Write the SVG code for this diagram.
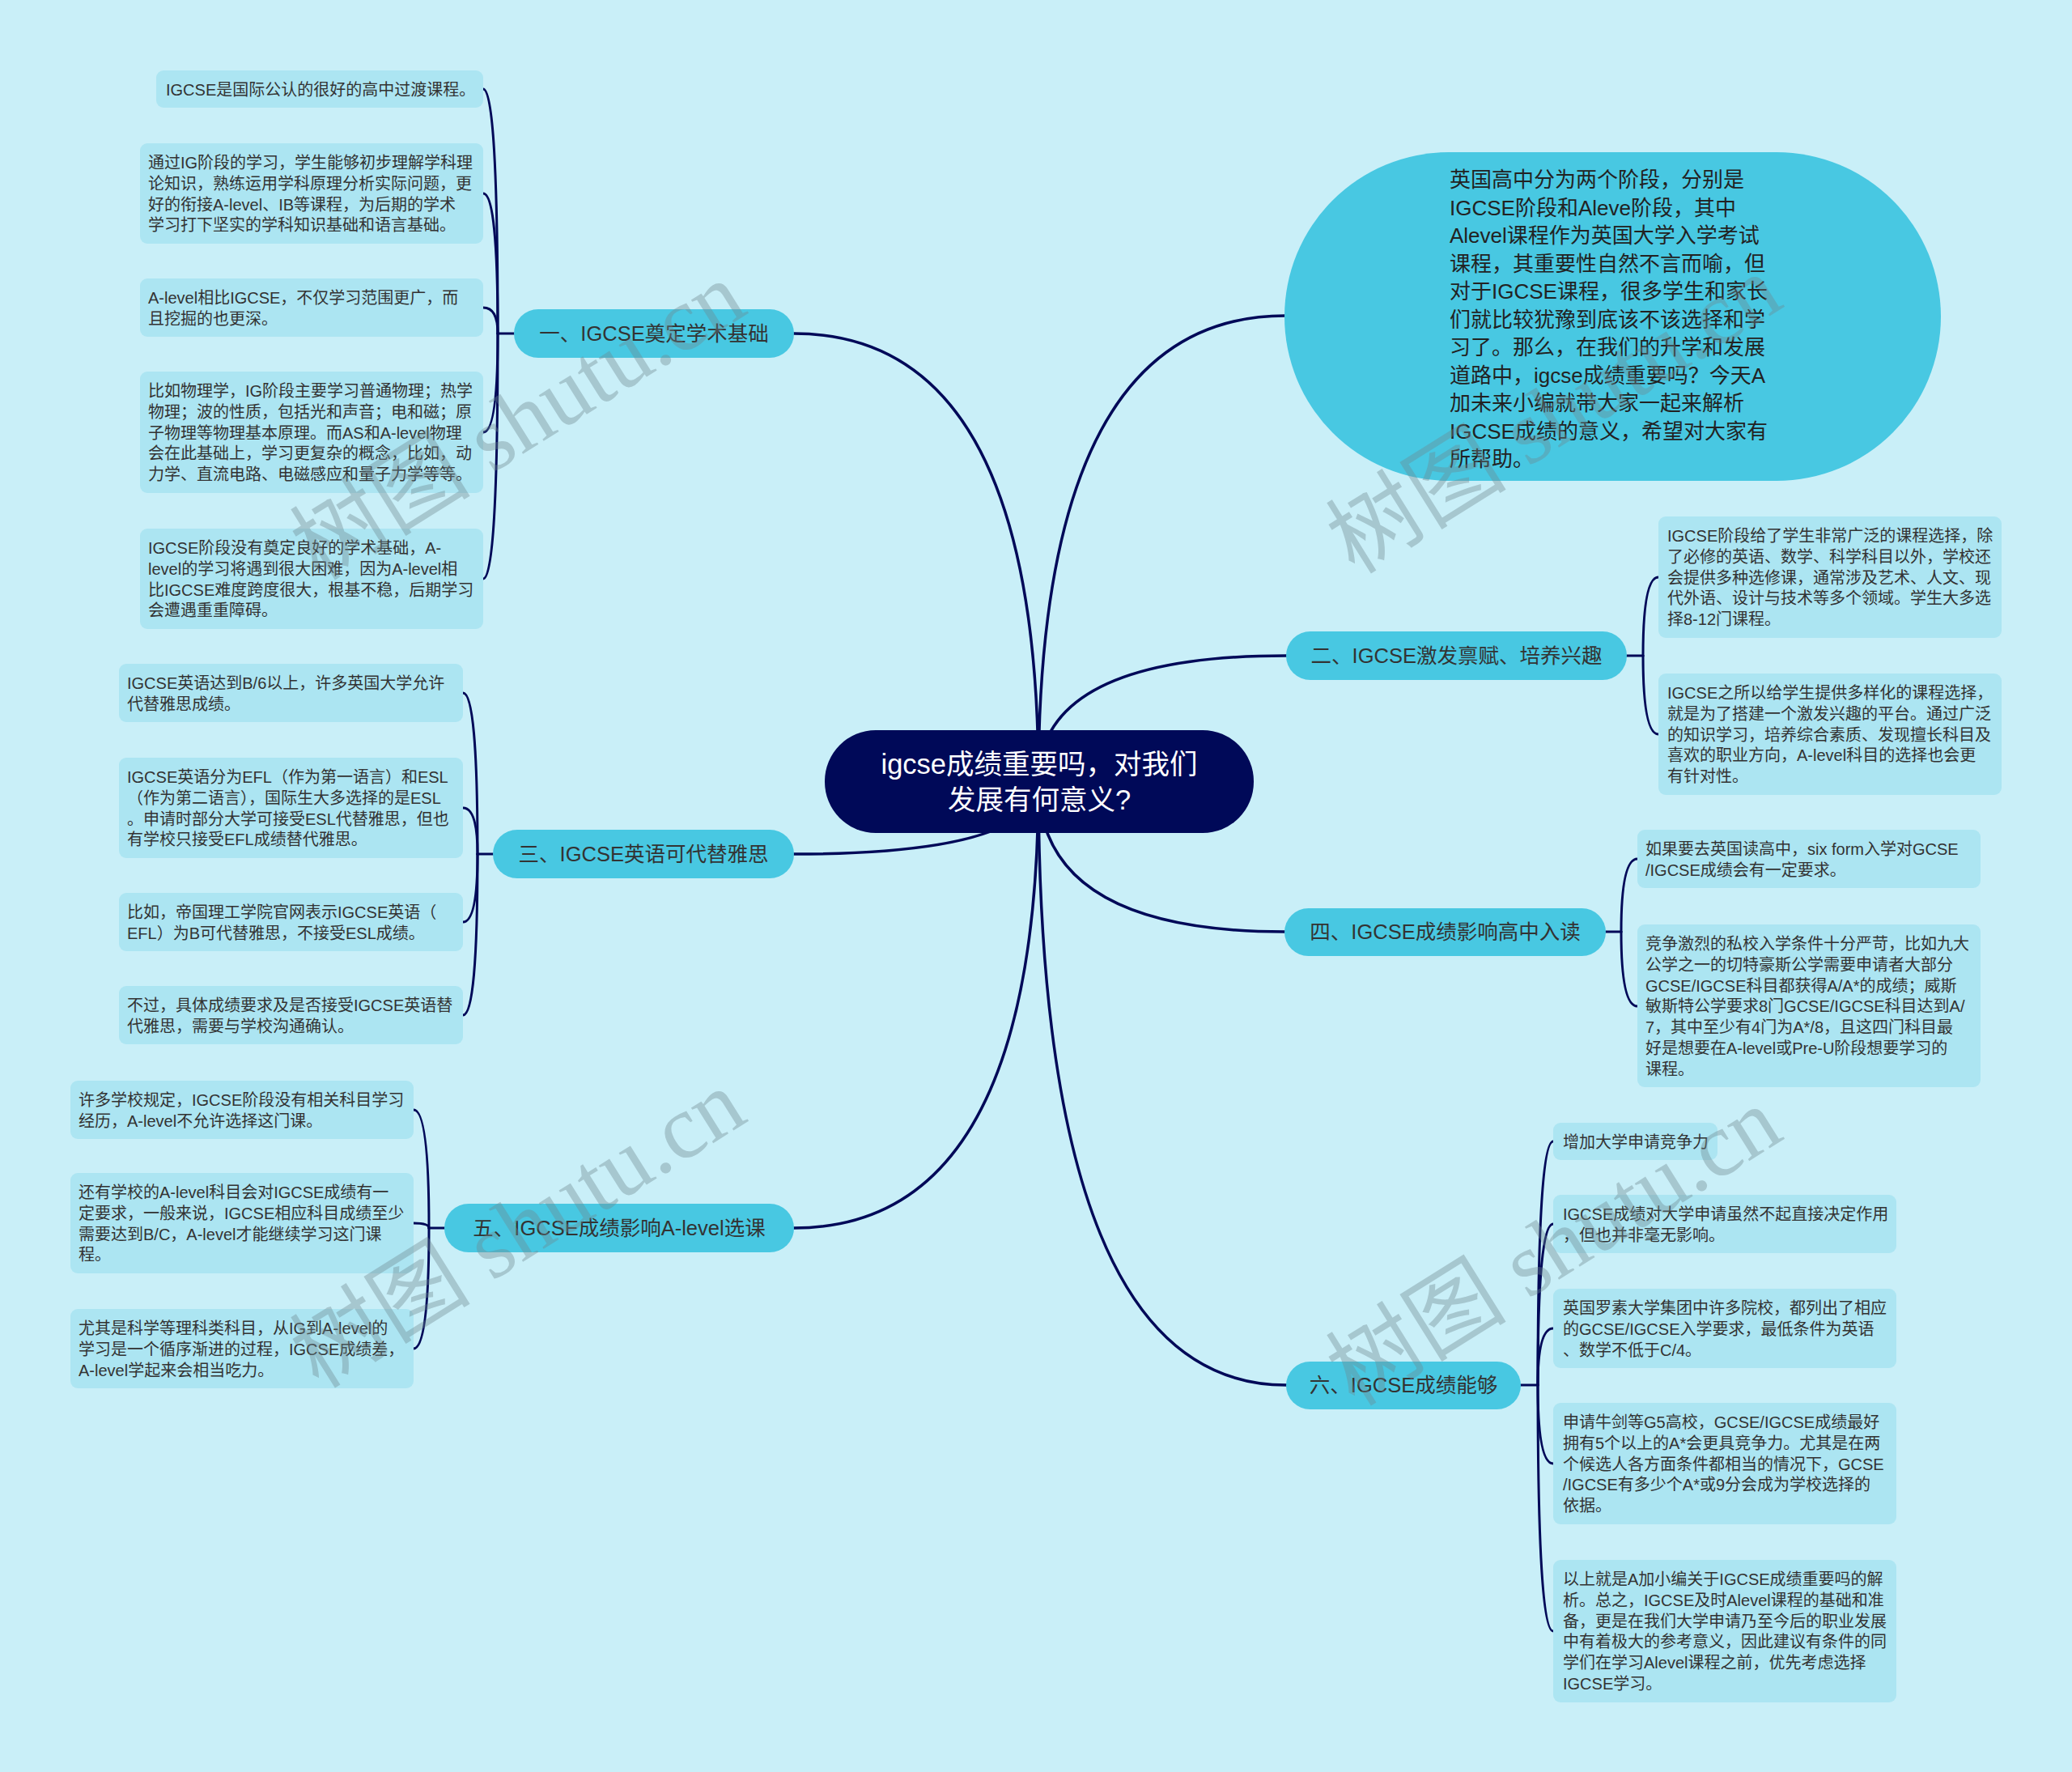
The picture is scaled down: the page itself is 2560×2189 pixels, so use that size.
<svg xmlns="http://www.w3.org/2000/svg" width="2560" height="2189" viewBox="0 0 2560 2189">
<style>
.bg{fill:#C9EFF8}
.ln{fill:none;stroke:#000958;stroke-width:3.5;stroke-linecap:round}
.sl{fill:none;stroke:#000958;stroke-width:3;stroke-linecap:round}
.leaf{fill:#ACE5F2}
.br{fill:#48C8E2}
.t{font-family:"Liberation Sans","Noto Sans CJK SC",sans-serif;fill:#333333}
.lt{font-size:20px}
.bt{font-size:25.5px;text-anchor:middle}
.ct{font-family:"Liberation Sans","Noto Sans CJK SC",sans-serif;font-size:34.5px;fill:#FFFFFF;text-anchor:middle}
.it{font-size:26px;fill:#222222}
.wm{font-family:"Liberation Serif","Noto Sans CJK SC",serif;font-size:112px;fill:#6E878F;opacity:0.38}
</style>
<rect class="bg" x="0" y="0" width="2560" height="2189"/>

<g id="connectors">
<path class="ln" d="M1283 965 Q1283 412 981 412"/>
<path class="ln" d="M1283 965 Q1283 390 1588 390"/>
<path class="ln" d="M1283 965 Q1283 810 1589 810"/>
<path class="ln" d="M1283 965 Q1283 1055 981 1055"/>
<path class="ln" d="M1283 965 Q1283 1151 1587 1151"/>
<path class="ln" d="M1283 965 Q1283 1517 981 1517"/>
<path class="ln" d="M1283 965 Q1283 1711 1589 1711"/>
<!-- group 1 -->
<path class="sl" d="M635 412 H615"/>
<path class="sl" d="M615 412 Q615 110 597 110"/>
<path class="sl" d="M615 412 Q615 239 597 239"/>
<path class="sl" d="M615 412 Q615 380 597 380"/>
<path class="sl" d="M615 412 Q615 534 597 534"/>
<path class="sl" d="M615 412 Q615 715 597 715"/>
<!-- group 3 -->
<path class="sl" d="M609 1055 H590"/>
<path class="sl" d="M590 1055 Q590 856 572 856"/>
<path class="sl" d="M590 1055 Q590 998 572 998"/>
<path class="sl" d="M590 1055 Q590 1139 572 1139"/>
<path class="sl" d="M590 1055 Q590 1254 572 1254"/>
<!-- group 5 -->
<path class="sl" d="M549 1517 H530"/>
<path class="sl" d="M530 1517 Q530 1371 511 1371"/>
<path class="sl" d="M530 1517 Q530 1511 511 1511"/>
<path class="sl" d="M530 1517 Q530 1666 511 1666"/>
<!-- group 2 -->
<path class="sl" d="M2010 810 H2030"/>
<path class="sl" d="M2030 810 Q2030 713 2049 713"/>
<path class="sl" d="M2030 810 Q2030 907 2049 907"/>
<!-- group 4 -->
<path class="sl" d="M1984 1151 H2003"/>
<path class="sl" d="M2003 1151 Q2003 1061 2023 1061"/>
<path class="sl" d="M2003 1151 Q2003 1243 2023 1243"/>
<!-- group 6 -->
<path class="sl" d="M1879 1711 H1900"/>
<path class="sl" d="M1900 1711 Q1900 1410 1919 1410"/>
<path class="sl" d="M1900 1711 Q1900 1512 1919 1512"/>
<path class="sl" d="M1900 1711 Q1900 1641 1919 1641"/>
<path class="sl" d="M1900 1711 Q1900 1808 1919 1808"/>
<path class="sl" d="M1900 1711 Q1900 2015 1919 2015"/>
</g>

<g id="center">
<rect x="1019" y="902" width="530" height="127" rx="63" fill="#000958"/>
<text class="ct" x="1284" y="956">igcse成绩重要吗，对我们</text>
<text class="ct" x="1284" y="1000">发展有何意义?</text>
</g>

<g id="intro">
<rect class="br" x="1587" y="188" width="811" height="406" rx="203"/>
<text class="t it" x="1791" y="231">英国高中分为两个阶段，分别是</text>
<text class="t it" x="1791" y="265.5">IGCSE阶段和Aleve阶段，其中</text>
<text class="t it" x="1791" y="300">Alevel课程作为英国大学入学考试</text>
<text class="t it" x="1791" y="334.5">课程，其重要性自然不言而喻，但</text>
<text class="t it" x="1791" y="369">对于IGCSE课程，很多学生和家长</text>
<text class="t it" x="1791" y="403.5">们就比较犹豫到底该不该选择和学</text>
<text class="t it" x="1791" y="438">习了。那么，在我们的升学和发展</text>
<text class="t it" x="1791" y="472.5">道路中，igcse成绩重要吗？今天A</text>
<text class="t it" x="1791" y="507">加未来小编就带大家一起来解析</text>
<text class="t it" x="1791" y="541.5">IGCSE成绩的意义，希望对大家有</text>
<text class="t it" x="1791" y="576">所帮助。</text>
</g>

<g id="b1">
<rect class="br" x="635" y="382" width="346" height="60" rx="30"/>
<text class="t bt" x="808" y="421">一、IGCSE奠定学术基础</text>
</g>
<g id="b1c1">
<rect class="leaf" x="193" y="87" width="404" height="46" rx="9"/>
<text class="t lt" x="205" y="118">IGCSE是国际公认的很好的高中过渡课程。</text>
</g>
<g id="b1c2">
<rect class="leaf" x="173" y="177" width="424" height="124" rx="9"/>
<text class="t lt" x="183" y="208">通过IG阶段的学习，学生能够初步理解学科理</text>
<text class="t lt" x="183" y="233.8">论知识，熟练运用学科原理分析实际问题，更</text>
<text class="t lt" x="183" y="259.6">好的衔接A-level、IB等课程，为后期的学术</text>
<text class="t lt" x="183" y="285.4">学习打下坚实的学科知识基础和语言基础。</text>
</g>
<g id="b1c3">
<rect class="leaf" x="173" y="344" width="424" height="72" rx="9"/>
<text class="t lt" x="183" y="375">A-level相比IGCSE，不仅学习范围更广，而</text>
<text class="t lt" x="183" y="400.8">且挖掘的也更深。</text>
</g>
<g id="b1c4">
<rect class="leaf" x="173" y="459" width="424" height="150" rx="9"/>
<text class="t lt" x="183" y="490">比如物理学，IG阶段主要学习普通物理；热学</text>
<text class="t lt" x="183" y="515.8">物理；波的性质，包括光和声音；电和磁；原</text>
<text class="t lt" x="183" y="541.6">子物理等物理基本原理。而AS和A-level物理</text>
<text class="t lt" x="183" y="567.4">会在此基础上，学习更复杂的概念，比如，动</text>
<text class="t lt" x="183" y="593.2">力学、直流电路、电磁感应和量子力学等等。</text>
</g>
<g id="b1c5">
<rect class="leaf" x="173" y="653" width="424" height="124" rx="9"/>
<text class="t lt" x="183" y="684">IGCSE阶段没有奠定良好的学术基础，A-</text>
<text class="t lt" x="183" y="709.8">level的学习将遇到很大困难，因为A-level相</text>
<text class="t lt" x="183" y="735.6">比IGCSE难度跨度很大，根基不稳，后期学习</text>
<text class="t lt" x="183" y="761.4">会遭遇重重障碍。</text>
</g>

<g id="b2">
<rect class="br" x="1589" y="780" width="421" height="60" rx="30"/>
<text class="t bt" x="1799.5" y="819">二、IGCSE激发禀赋、培养兴趣</text>
</g>
<g id="b2c1">
<rect class="leaf" x="2049" y="638" width="424" height="150" rx="9"/>
<text class="t lt" x="2060" y="669">IGCSE阶段给了学生非常广泛的课程选择，除</text>
<text class="t lt" x="2060" y="694.8">了必修的英语、数学、科学科目以外，学校还</text>
<text class="t lt" x="2060" y="720.6">会提供多种选修课，通常涉及艺术、人文、现</text>
<text class="t lt" x="2060" y="746.4">代外语、设计与技术等多个领域。学生大多选</text>
<text class="t lt" x="2060" y="772.2">择8-12门课程。</text>
</g>
<g id="b2c2">
<rect class="leaf" x="2049" y="832" width="424" height="150" rx="9"/>
<text class="t lt" x="2060" y="863">IGCSE之所以给学生提供多样化的课程选择，</text>
<text class="t lt" x="2060" y="888.8">就是为了搭建一个激发兴趣的平台。通过广泛</text>
<text class="t lt" x="2060" y="914.6">的知识学习，培养综合素质、发现擅长科目及</text>
<text class="t lt" x="2060" y="940.4">喜欢的职业方向，A-level科目的选择也会更</text>
<text class="t lt" x="2060" y="966.2">有针对性。</text>
</g>

<g id="b3">
<rect class="br" x="609" y="1025" width="372" height="60" rx="30"/>
<text class="t bt" x="795" y="1064">三、IGCSE英语可代替雅思</text>
</g>
<g id="b3c1">
<rect class="leaf" x="147" y="820" width="425" height="72" rx="9"/>
<text class="t lt" x="157" y="851">IGCSE英语达到B/6以上，许多英国大学允许</text>
<text class="t lt" x="157" y="876.8">代替雅思成绩。</text>
</g>
<g id="b3c2">
<rect class="leaf" x="147" y="936" width="425" height="124" rx="9"/>
<text class="t lt" x="157" y="967">IGCSE英语分为EFL（作为第一语言）和ESL</text>
<text class="t lt" x="157" y="992.8">（作为第二语言），国际生大多选择的是ESL</text>
<text class="t lt" x="157" y="1018.6">。申请时部分大学可接受ESL代替雅思，但也</text>
<text class="t lt" x="157" y="1044.4">有学校只接受EFL成绩替代雅思。</text>
</g>
<g id="b3c3">
<rect class="leaf" x="147" y="1103" width="425" height="72" rx="9"/>
<text class="t lt" x="157" y="1134">比如，帝国理工学院官网表示IGCSE英语（</text>
<text class="t lt" x="157" y="1159.8">EFL）为B可代替雅思，不接受ESL成绩。</text>
</g>
<g id="b3c4">
<rect class="leaf" x="147" y="1218" width="425" height="72" rx="9"/>
<text class="t lt" x="157" y="1249">不过，具体成绩要求及是否接受IGCSE英语替</text>
<text class="t lt" x="157" y="1274.8">代雅思，需要与学校沟通确认。</text>
</g>

<g id="b4">
<rect class="br" x="1587" y="1122" width="397" height="59" rx="29.5"/>
<text class="t bt" x="1785.5" y="1160">四、IGCSE成绩影响高中入读</text>
</g>
<g id="b4c1">
<rect class="leaf" x="2023" y="1025" width="424" height="72" rx="9"/>
<text class="t lt" x="2033" y="1056">如果要去英国读高中，six form入学对GCSE</text>
<text class="t lt" x="2033" y="1081.8">/IGCSE成绩会有一定要求。</text>
</g>
<g id="b4c2">
<rect class="leaf" x="2023" y="1142" width="424" height="201" rx="9"/>
<text class="t lt" x="2033" y="1173">竞争激烈的私校入学条件十分严苛，比如九大</text>
<text class="t lt" x="2033" y="1198.8">公学之一的切特豪斯公学需要申请者大部分</text>
<text class="t lt" x="2033" y="1224.6">GCSE/IGCSE科目都获得A/A*的成绩；威斯</text>
<text class="t lt" x="2033" y="1250.4">敏斯特公学要求8门GCSE/IGCSE科目达到A/</text>
<text class="t lt" x="2033" y="1276.2">7，其中至少有4门为A*/8，且这四门科目最</text>
<text class="t lt" x="2033" y="1302">好是想要在A-level或Pre-U阶段想要学习的</text>
<text class="t lt" x="2033" y="1327.8">课程。</text>
</g>

<g id="b5">
<rect class="br" x="549" y="1487" width="432" height="60" rx="30"/>
<text class="t bt" x="765" y="1526">五、IGCSE成绩影响A-level选课</text>
</g>
<g id="b5c1">
<rect class="leaf" x="87" y="1335" width="424" height="72" rx="9"/>
<text class="t lt" x="97" y="1366">许多学校规定，IGCSE阶段没有相关科目学习</text>
<text class="t lt" x="97" y="1391.8">经历，A-level不允许选择这门课。</text>
</g>
<g id="b5c2">
<rect class="leaf" x="87" y="1449" width="424" height="124" rx="9"/>
<text class="t lt" x="97" y="1480">还有学校的A-level科目会对IGCSE成绩有一</text>
<text class="t lt" x="97" y="1505.8">定要求，一般来说，IGCSE相应科目成绩至少</text>
<text class="t lt" x="97" y="1531.6">需要达到B/C，A-level才能继续学习这门课</text>
<text class="t lt" x="97" y="1557.4">程。</text>
</g>
<g id="b5c3">
<rect class="leaf" x="87" y="1617" width="424" height="98" rx="9"/>
<text class="t lt" x="97" y="1648">尤其是科学等理科类科目，从IG到A-level的</text>
<text class="t lt" x="97" y="1673.8">学习是一个循序渐进的过程，IGCSE成绩差，</text>
<text class="t lt" x="97" y="1699.6">A-level学起来会相当吃力。</text>
</g>

<g id="b6">
<rect class="br" x="1589" y="1682" width="290" height="59" rx="29.5"/>
<text class="t bt" x="1734" y="1720">六、IGCSE成绩能够</text>
</g>
<g id="b6c1">
<rect class="leaf" x="1919" y="1387" width="203" height="46" rx="9"/>
<text class="t lt" x="1931" y="1418">增加大学申请竞争力</text>
</g>
<g id="b6c2">
<rect class="leaf" x="1919" y="1476" width="424" height="72" rx="9"/>
<text class="t lt" x="1931" y="1507">IGCSE成绩对大学申请虽然不起直接决定作用</text>
<text class="t lt" x="1931" y="1532.8">，但也并非毫无影响。</text>
</g>
<g id="b6c3">
<rect class="leaf" x="1919" y="1592" width="424" height="98" rx="9"/>
<text class="t lt" x="1931" y="1623">英国罗素大学集团中许多院校，都列出了相应</text>
<text class="t lt" x="1931" y="1648.8">的GCSE/IGCSE入学要求，最低条件为英语</text>
<text class="t lt" x="1931" y="1674.6">、数学不低于C/4。</text>
</g>
<g id="b6c4">
<rect class="leaf" x="1919" y="1733" width="424" height="150" rx="9"/>
<text class="t lt" x="1931" y="1764">申请牛剑等G5高校，GCSE/IGCSE成绩最好</text>
<text class="t lt" x="1931" y="1789.8">拥有5个以上的A*会更具竞争力。尤其是在两</text>
<text class="t lt" x="1931" y="1815.6">个候选人各方面条件都相当的情况下，GCSE</text>
<text class="t lt" x="1931" y="1841.4">/IGCSE有多少个A*或9分会成为学校选择的</text>
<text class="t lt" x="1931" y="1867.2">依据。</text>
</g>
<g id="b6c5">
<rect class="leaf" x="1919" y="1927" width="424" height="176" rx="9"/>
<text class="t lt" x="1931" y="1958">以上就是A加小编关于IGCSE成绩重要吗的解</text>
<text class="t lt" x="1931" y="1983.8">析。总之，IGCSE及时Alevel课程的基础和准</text>
<text class="t lt" x="1931" y="2009.6">备，更是在我们大学申请乃至今后的职业发展</text>
<text class="t lt" x="1931" y="2035.4">中有着极大的参考意义，因此建议有条件的同</text>
<text class="t lt" x="1931" y="2061.2">学们在学习Alevel课程之前，优先考虑选择</text>
<text class="t lt" x="1931" y="2087">IGCSE学习。</text>
</g>

<g id="watermarks">
<text class="wm" transform="translate(640 520) rotate(-32)" text-anchor="middle" y="38">树图 shutu.cn</text>
<text class="wm" transform="translate(1920 512) rotate(-32)" text-anchor="middle" y="38">树图 shutu.cn</text>
<text class="wm" transform="translate(640 1518) rotate(-32)" text-anchor="middle" y="38">树图 shutu.cn</text>
<text class="wm" transform="translate(1920 1540) rotate(-32)" text-anchor="middle" y="38">树图 shutu.cn</text>
</g>
</svg>
